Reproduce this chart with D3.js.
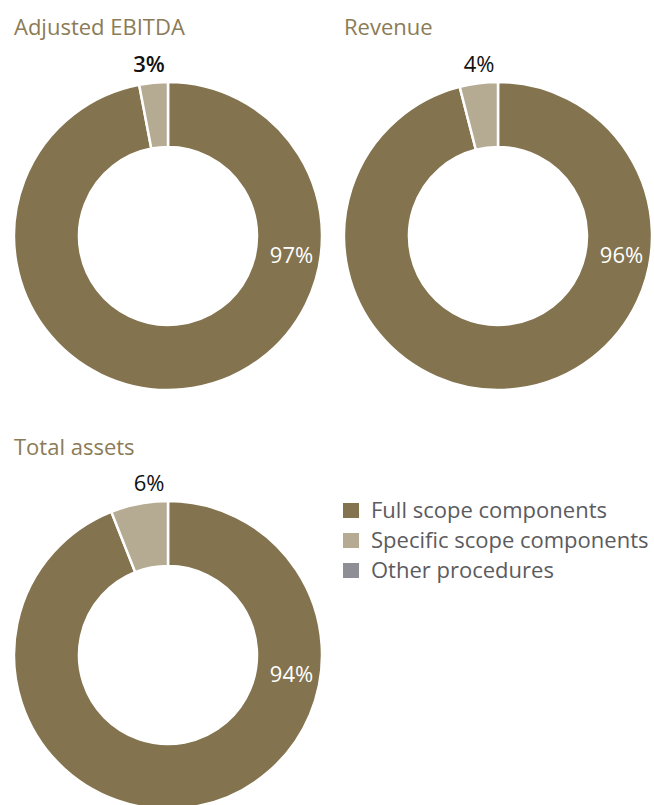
<!DOCTYPE html>
<html><head><meta charset="utf-8">
<script src="https://cdn.jsdelivr.net/npm/d3@7"></script>
<style>body{margin:0;background:#fff}svg{display:block}text{font-family:"Open Sans",Lato,sans-serif}</style>
</head><body><svg id="c" width="654" height="805"></svg>
<script>
const titles = ["Adjusted EBITDA", "Revenue", "Total assets"];
const categories = ["Full scope components", "Specific scope components", "Other procedures"];
const fullScope = [97, 96, 94];
const specificScope = [3, 4, 6];
const otherProcedures = [0, 0, 0];
const colors = ["#83734f", "#b5aa92", "#8e8f96"];

const svg = d3.select("#c");
const layout = [{cx:168, cy:236, tx:14, ty:35}, {cx:498, cy:236, tx:344, ty:35}, {cx:168, cy:655, tx:14, ty:455}];
const rOuter = 154, rInner = 89;
const pie = d3.pie().sort(null).value(d => d.v);
const arc = d3.arc().innerRadius(rInner).outerRadius(rOuter);
const color = d3.scaleOrdinal().domain(categories).range(colors);

titles.forEach((t, i) => {
  const L = layout[i];
  svg.append("text").attr("x", L.tx).attr("y", L.ty).attr("fill", "#8b7b56")
    .style("font-size", "22px").text(t);
  const data = [
    {k: categories[0], v: fullScope[i]},
    {k: categories[1], v: specificScope[i]},
    {k: categories[2], v: otherProcedures[i]}
  ];
  const g = svg.append("g").attr("transform", `translate(${L.cx},${L.cy})`);
  const arcs = pie(data);
  g.selectAll("path").data(arcs.filter(a => a.data.v > 0)).join("path")
    .attr("d", arc).attr("fill", d => color(d.data.k))
    .attr("stroke", "#fff").attr("stroke-width", 2.5).attr("stroke-linejoin", "miter");
  const rm = (rInner + rOuter) / 2;
  g.append("text").attr("x", rm + 2).attr("y", 19).attr("dy", "0.35em").attr("text-anchor", "middle")
    .attr("fill", "#fff").style("font-size", "22px").text(fullScope[i] + "%");
  g.append("text").attr("x", -19).attr("y", -rOuter - 10).attr("text-anchor", "middle")
    .attr("fill", "#111").style("font-size", "22px").style("font-weight", i === 0 ? "600" : "400")
    .text(specificScope[i] + "%");
});

const leg = svg.append("g").attr("transform", "translate(343,503)");
categories.forEach((c, i) => {
  const row = leg.append("g").attr("transform", `translate(0,${i*30})`);
  row.append("rect").attr("width", 16).attr("height", 15).attr("fill", color(c));
  row.append("text").attr("x", 28).attr("y", 7.5).attr("dy", "0.35em").attr("fill", "#5b5b60")
    .style("font-size", "22px").text(c);
});
</script></body></html>
